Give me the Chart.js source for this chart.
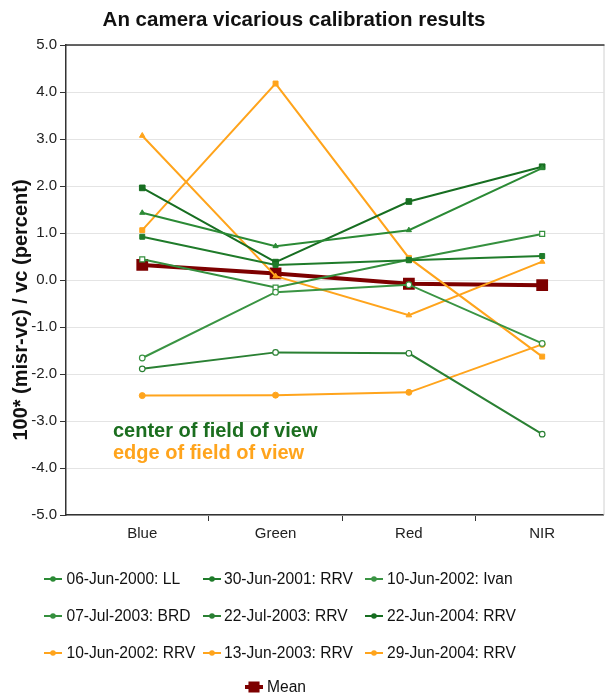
<!DOCTYPE html>
<html>
<head>
<meta charset="utf-8">
<script src="https://cdn.jsdelivr.net/npm/chart.js@4.4.1/dist/chart.umd.min.js"></script>
<style>
  body { margin: 0; background: #fff; }
  #wrap { width: 613px; height: 695px; }
</style>
</head>
<body>
<div id="wrap"><canvas id="myChart" width="613" height="695"></canvas></div>
<script>
// spectral bands along the x-axis
var bands = ['Blue', 'Green', 'Red', 'NIR'];

// center of field of view campaigns
var jun2000LL   = [1.43, 0.72, 1.06, 2.38];
var jun2001RRV  = [0.92, 0.32, 0.42, 0.51];
var jun2002Ivan = [-1.66, -0.26, -0.10, -1.35];
var jul2003BRD  = [0.44, -0.16, 0.43, 0.98];
var jul2003RRV  = [-1.89, -1.54, -1.56, -3.28];
var jun2004RRV  = [1.96, 0.38, 1.67, 2.41];

// edge of field of view campaigns
var jun2002RRV     = [1.06, 4.18, 0.47, -1.63];
var jun2003RRV     = [3.07, 0.08, -0.75, 0.39];
var jun2004RRVedge = [-2.46, -2.45, -2.39, -1.37];

var meanBias = [0.32, 0.14, -0.08, -0.11];

var yTicks = [-5, -4, -3, -2, -1, 0, 1, 2, 3, 4, 5];

var FONT = '"Liberation Sans", Arial, Helvetica, sans-serif';
var ORANGE = '#ffa41c';

function pts(vals) {
  return vals.map(function (v, i) { return { x: i, y: v }; });
}

function series(label, vals, color, style, radius, open) {
  return {
    label: label,
    data: pts(vals),
    borderColor: color,
    backgroundColor: open ? '#ffffff' : color,
    borderWidth: 2,
    pointStyle: style,
    pointRadius: radius,
    pointBorderWidth: open ? 1.2 : 1,
    pointBorderColor: color,
    pointBackgroundColor: open ? '#ffffff' : color,
    tension: 0
  };
}

var datasets = [
  series('06-Jun-2000: LL', jun2000LL, '#2b8a35', 'triangle', 3),
  series('30-Jun-2001: RRV', jun2001RRV, '#1f7b2a', 'rect', 3.5),
  series('10-Jun-2002: Ivan', jun2002Ivan, '#3a9443', 'circle', 2.8, true),
  series('07-Jul-2003: BRD', jul2003BRD, '#35903e', 'rect', 3.5, true),
  series('22-Jul-2003: RRV', jul2003RRV, '#2a8033', 'circle', 2.8, true),
  series('22-Jun-2004: RRV', jun2004RRV, '#176e21', 'rect', 4),
  series('10-Jun-2002: RRV', jun2002RRV, ORANGE, 'rect', 3.5),
  series('13-Jun-2003: RRV', jun2003RRV, ORANGE, 'triangle', 3.2),
  series('29-Jun-2004: RRV', jun2004RRVedge, ORANGE, 'circle', 3),
  {
    label: 'Mean',
    data: pts(meanBias),
    borderColor: '#7d0000',
    backgroundColor: '#7d0000',
    borderWidth: 4,
    pointStyle: 'rect',
    pointRadius: 5.5,
    pointBorderColor: '#7d0000',
    pointBackgroundColor: '#7d0000',
    tension: 0
  }
];

// frame, titles, field-of-view notes and the legend grid
var decorations = {
  id: 'decorations',
  beforeDatasetsDraw: function (chart) {
    var ctx = chart.ctx, a = chart.chartArea;
    ctx.save();
    ctx.strokeStyle = '#d0d0d0';
    ctx.lineWidth = 1;
    ctx.beginPath();
    ctx.moveTo(a.right + 0.5, a.top);
    ctx.lineTo(a.right + 0.5, a.bottom);
    ctx.stroke();
    ctx.strokeStyle = '#333';
    ctx.lineWidth = 1.5;
    ctx.beginPath();
    ctx.moveTo(a.left, a.top);
    ctx.lineTo(a.right + 1, a.top);
    ctx.stroke();
    ctx.restore();
  },
  afterDraw: function (chart) {
    var ctx = chart.ctx;
    ctx.save();
    ctx.fillStyle = '#111';
    ctx.textAlign = 'center';
    ctx.textBaseline = 'alphabetic';
    ctx.font = 'bold 20.5px ' + FONT;
    ctx.fillText('An camera vicarious calibration results', 294, 26);

    ctx.save();
    ctx.translate(27, 310);
    ctx.rotate(-Math.PI / 2);
    ctx.font = 'bold 20px ' + FONT;
    ctx.fillText('100* (misr-vc) / vc (percent)', 0, 0);
    ctx.restore();

    ctx.textAlign = 'left';
    ctx.font = 'bold 20px ' + FONT;
    ctx.fillStyle = '#1b6e1f';
    ctx.fillText('center of field of view', 113, 437);
    ctx.fillStyle = ORANGE;
    ctx.fillText('edge of field of view', 113, 459);

    // legend: three columns, mean on its own row
    var lineX = [44, 203, 365];
    var textX = [66.5, 224, 387];
    var rowY = [579, 616, 653];
    ctx.font = '15.6px ' + FONT;
    ctx.textBaseline = 'middle';
    chart.data.datasets.forEach(function (ds, i) {
      var x0, tx, y;
      if (i < 9) {
        x0 = lineX[i % 3]; tx = textX[i % 3]; y = rowY[Math.floor(i / 3)];
      } else {
        x0 = 245; tx = 267; y = 687;
      }
      ctx.strokeStyle = ds.borderColor;
      ctx.lineWidth = i < 9 ? 2 : 4;
      ctx.beginPath();
      ctx.moveTo(x0, y);
      ctx.lineTo(x0 + 18, y);
      ctx.stroke();
      ctx.fillStyle = ds.borderColor;
      ctx.strokeStyle = ds.borderColor;
      Chart.helpers.drawPoint(ctx, {
        pointStyle: i < 9 ? 'circle' : 'rect',
        radius: i < 9 ? 1.8 : 5,
        borderWidth: 1,
        rotation: 0
      }, x0 + 9, y);
      ctx.fillStyle = '#111';
      ctx.fillText(ds.label, tx, y + 1);
    });
    ctx.restore();
  }
};

var ctx = document.getElementById('myChart');
var myChart = new Chart(ctx, {
  type: 'line',
  data: { datasets: datasets },
  plugins: [decorations],
  options: {
    responsive: false,
    animation: false,
    layout: { padding: { top: 45, left: 0, right: 4, bottom: 150 } },
    plugins: {
      legend: { display: false },
      title: { display: false },
      tooltip: { enabled: false }
    },
    scales: {
      x: {
        type: 'linear',
        min: -0.572,
        max: 3.46,
        afterBuildTicks: function (scale) {
          scale.ticks = [0, 0.5, 1, 1.5, 2, 2.5, 3].map(function (v) { return { value: v }; });
        },
        afterFit: function (scale) { scale.height = 30; },
        ticks: {
          autoSkip: false,
          maxRotation: 0,
          padding: 4,
          color: '#222',
          font: { family: FONT, size: 15 },
          callback: function (v) { return Number.isInteger(v) ? bands[v] : ''; }
        },
        grid: {
          drawOnChartArea: false,
          tickLength: 6,
          tickColor: function (c) {
            return c.tick && Number.isInteger(c.tick.value) ? 'rgba(0,0,0,0)' : '#333';
          }
        },
        border: { display: true, color: '#333', width: 1.5 }
      },
      y: {
        min: -5,
        max: 5,
        afterBuildTicks: function (scale) {
          scale.ticks = yTicks.map(function (v) { return { value: v }; });
        },
        afterFit: function (scale) { scale.width = 66; },
        ticks: {
          padding: 3,
          color: '#222',
          font: { family: FONT, size: 15 },
          callback: function (v) { return v.toFixed(1); }
        },
        grid: {
          color: '#e4e4e4',
          lineWidth: 1,
          tickLength: 6,
          tickColor: '#333'
        },
        border: { display: true, color: '#333', width: 1.5 }
      }
    }
  }
});
</script>
</body>
</html>
